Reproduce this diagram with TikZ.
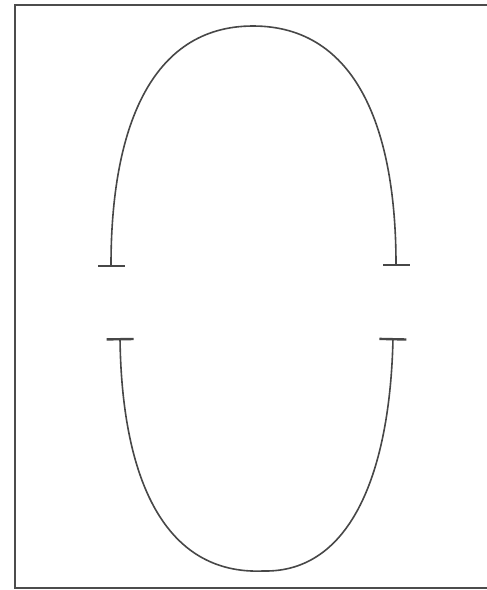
\documentclass[tikz,border=0pt]{standalone}
\usetikzlibrary{arrows.meta}

\begin{document}
\begin{tikzpicture}[x=1pt, y=-1pt,
  frame/.style={draw=black!70, line width=2.4pt},
  arcline/.style={draw=black!72, line width=1.6pt,
    {Bar[width=27pt, line width=2.4pt]}-{Bar[width=27pt, line width=2.4pt]}}
]
\useasboundingbox (0,0) rectangle (487,590);

% Rahmen (rechts offen)
\draw[frame] (487,5) -- (15,5) -- (15,588) -- (487,588);

% Endpunkte der Boegen
\coordinate (upL) at (111,267);
\coordinate (upTop) at (253,26);
\coordinate (upR) at (396,266);
\coordinate (loL) at (120,338);
\coordinate (loBot) at (263,571);
\coordinate (loR) at (393,338);

% oberer Bogen
\draw[arcline] (upL) .. controls (111,130) and (150,26) .. (upTop)
  .. controls (357,26) and (396,130) .. (upR);

% unterer Bogen
\draw[arcline] (loL) .. controls (122,480) and (165,575) .. (loBot)
  .. controls (352,573) and (390,470) .. (loR);

\end{tikzpicture}
\end{document}
